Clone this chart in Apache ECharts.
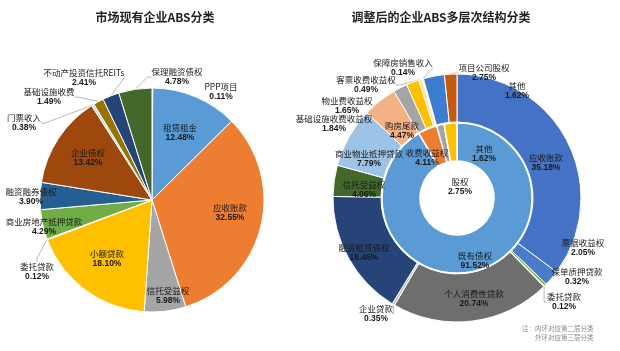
<!DOCTYPE html>
<html>
<head>
<meta charset="utf-8">
<script src="https://cdn.jsdelivr.net/npm/echarts@6/dist/echarts.min.js"></script>
<style>html,body{margin:0;padding:0;background:#fff;}#c{width:620px;height:351px;}</style>
</head>
<body>
<div id="c"></div>
<script>
// ---- data ----
var leftTitle = '市场现有企业ABS分类';
var rightTitle = '调整后的企业ABS多层次结构分类';

var leftNames = ['PPP项目','租赁租金','应收账款','信托受益权','小额贷款','委托贷款','商业房地产抵押贷款','融资融券债权','企业债权','门票收入','基础设施收费','不动产投资信托REITs','保理融资债权'];
var leftValues = [0.11,12.48,32.55,5.98,18.10,0.12,4.29,3.90,13.42,0.38,1.49,2.41,4.78];

var innerNames = ['既有债权','收费收益权','其他','股权'];
var innerValues = [91.52,4.11,1.62,2.75];

var outerNames = ['应收账款','票据收益权','保单质押贷款','委托贷款','个人消费性贷款','企业贷款','融资租赁债权','信托受益权','商业物业抵押贷款','购房尾款','基础设施收费收益权','物业费收益权','客票收费收益权','保障房销售收入','项目公司股权','其他'];
var outerValues = [35.18,2.05,0.32,0.12,20.74,0.35,16.45,4.06,7.79,4.47,1.84,1.65,0.49,0.14,2.75,1.62];

var noteLines = ['注：内环对应第二层分类','外环对应第三层分类'];

// ---- styles / layout ----
var leftColors = ['#A9D18E','#5B9BD5','#ED7D31','#A5A5A5','#FFC000','#4472C4','#70AD47','#255E91','#9E480E','#D9D9D9','#997300','#264478','#43682B'];
var leftLabelPos = [[221,92],[180,133],[230,213],[168,295.5],[107,259],[37,271.5],[44,227],[31,197],[88,158],[24,123],[49,97],[84,77.5],[177,77]];
var leftLine = [false,false,false,false,false,true,false,false,false,true,true,true,true];

var innerColors = ['#5B9BD5','#ED7D31','#A5A5A5','#FFC000'];
var innerLabelPos = [[475,260.5],[427,158],[484,153.5],[460,186.5]];

var outerColors = ['#4472C4','#4A7CCB','#70AD47','#A9D18E','#6E6E6E','#BFBFBF','#264478','#43682B','#9DC3E6','#F4B183','#A5A5A5','#FFC000','#FFE699','#DEEBF7','#3C7DD0','#C55A11'];
var outerLabelPos = [[546,163],[583,248],[577,277],[564,302],[474,298.5],[376,314],[364,252.5],[364,190],[369,158.5],[402,130.5],[334,124],[347,105.5],[366,85],[403,68],[484,73],[517,91]];
var outerLine = [false,true,true,true,false,true,false,false,false,false,true,true,true,true,true,true];

var numFont = "'Liberation Sans', Arial, sans-serif";
var cjkFont = "'Noto Sans CJK SC', sans-serif";

function mkData(names, values, colors, lines) {
  return names.map(function (n, i) {
    return {
      name: n, value: values[i],
      itemStyle: { color: colors[i] },
      labelLine: { show: lines ? lines[i] : false }
    };
  });
}
var labelCfg = {
  show: true,
  position: 'outside',
  formatter: function (p) { return '{n|' + p.name + '}\n{v|' + p.value.toFixed(2) + '%}'; },
  rich: {
    n: { fontSize: 8.5, fontFamily: cjkFont, color: '#1a1a1a', lineHeight: 10, align: 'center' },
    v: { fontSize: 8.5, fontFamily: numFont, fontWeight: 'bold', color: '#1a1a1a', lineHeight: 10, align: 'center' }
  }
};
var labelLineCfg = { show: true, length: 4, length2: 4, lineStyle: { color: '#9a9a9a', width: 0.7 } };
function layoutFrom(pos) {
  return function (p) {
    var q = pos[p.dataIndex];
    return { x: q[0], y: q[1], align: 'center', verticalAlign: 'middle' };
  };
}

var chart = echarts.init(document.getElementById('c'), null, { renderer: 'canvas' });
chart.setOption({
  backgroundColor: '#fff',
  animation: false,
  title: [
    { text: leftTitle, left: 150, top: 6, textAlign: 'center', textStyle: { fontSize: 12, fontWeight: 'bold', color: '#222', fontFamily: cjkFont } },
    { text: rightTitle, left: 436, top: 6, textAlign: 'center', textStyle: { fontSize: 12, fontWeight: 'bold', color: '#222', fontFamily: cjkFont } }
  ],
  graphic: [
    { type: 'text', left: 522, top: 325, style: { text: noteLines[0], fontSize: 6.5, fill: '#8a8a8a', fontFamily: cjkFont } },
    { type: 'text', left: 535, top: 334, style: { text: noteLines[1], fontSize: 6.5, fill: '#8a8a8a', fontFamily: cjkFont } }
  ],
  series: [
    {
      type: 'pie', center: [152, 200], radius: [0, 112], startAngle: 90, clockwise: true,
      avoidLabelOverlap: false,
      itemStyle: { borderColor: '#fff', borderWidth: 1 },
      label: labelCfg, labelLine: labelLineCfg,
      labelLayout: layoutFrom(leftLabelPos),
      data: mkData(leftNames, leftValues, leftColors, leftLine)
    },
    {
      type: 'pie', center: [457, 198], radius: [37, 75], startAngle: 90, clockwise: true,
      avoidLabelOverlap: false,
      itemStyle: { borderColor: '#fff', borderWidth: 1.5 },
      label: labelCfg, labelLine: { show: false },
      labelLayout: layoutFrom(innerLabelPos),
      data: mkData(innerNames, innerValues, innerColors, null)
    },
    {
      type: 'pie', center: [457, 198], radius: [76, 124], startAngle: 90, clockwise: true,
      avoidLabelOverlap: false,
      itemStyle: { borderColor: '#fff', borderWidth: 1 },
      label: labelCfg, labelLine: labelLineCfg,
      labelLayout: layoutFrom(outerLabelPos),
      data: mkData(outerNames, outerValues, outerColors, outerLine)
    }
  ]
});
</script>
</body>
</html>
